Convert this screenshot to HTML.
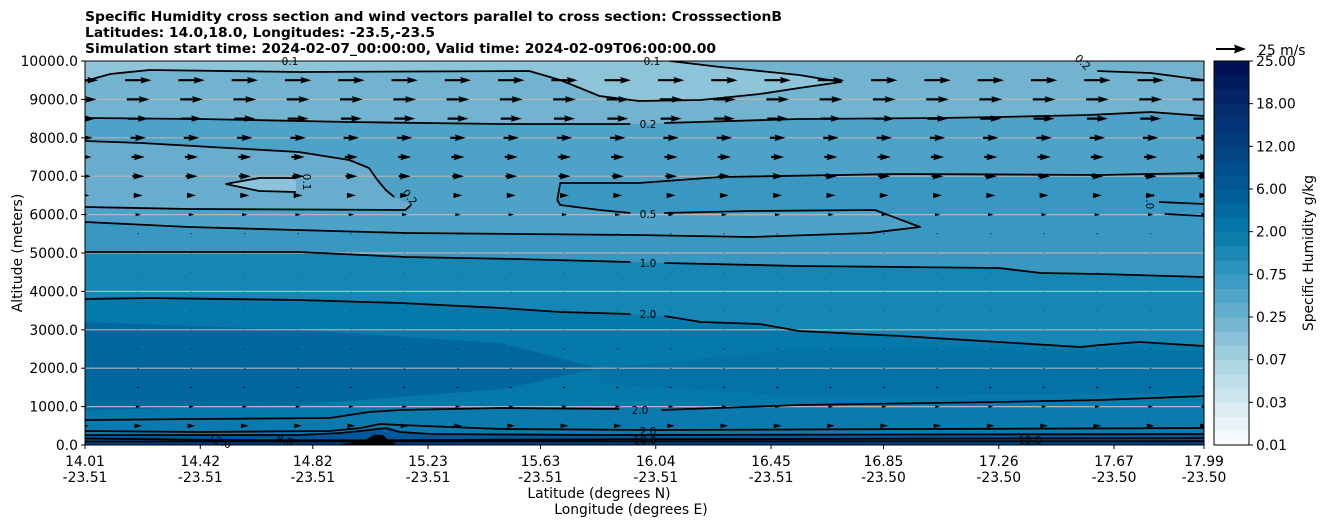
<!DOCTYPE html>
<html><head><meta charset="utf-8"><style>
html,body{margin:0;padding:0;background:#fff;}
svg{display:block;font-family:"DejaVu Sans","Liberation Sans",sans-serif;}
</style></head><body>
<svg id="chart" width="1326" height="526" viewBox="0 0 1326 526" xmlns="http://www.w3.org/2000/svg">
<defs><clipPath id="plotclip"><rect x="85" y="61" width="1119" height="384"/></clipPath></defs>
<g font-size="13" font-weight="bold" fill="#000">
<text x="85" y="21" textLength="697" lengthAdjust="spacingAndGlyphs">Specific Humidity cross section and wind vectors parallel to cross section: CrosssectionB</text>
<text x="85" y="37" textLength="350" lengthAdjust="spacingAndGlyphs">Latitudes: 14.0,18.0, Longitudes: -23.5,-23.5</text>
<text x="85" y="53" textLength="631" lengthAdjust="spacingAndGlyphs">Simulation start time: 2024-02-07_00:00:00, Valid time: 2024-02-09T06:00:00.00</text>
</g>
<g id="fills" clip-path="url(#plotclip)"></g>
<g id="grid"></g>
<g id="contours" clip-path="url(#plotclip)"></g>
<g id="arrows" clip-path="url(#plotclip)"></g>
<g id="clabels" font-size="10.5" fill="#000"></g>
<rect x="85" y="61" width="1119" height="384" fill="none" stroke="#000" stroke-width="1"/>
<g id="yaxis" font-size="13.9"></g>
<g id="xaxis" font-size="13.9"></g>
<text x="22" y="253" font-size="13.9" text-anchor="middle" transform="rotate(-90 22 253)">Altitude (meters)</text>
<text x="599" y="498" font-size="13.9" text-anchor="middle">Latitude (degrees N)</text>
<text x="631" y="514" font-size="13.9" text-anchor="middle">Longitude (degrees E)</text>
<g>
<path d="M1216 48 L1235 48 L1234 44.5 L1246 49 L1234 53.5 L1235 50 L1216 50 Z" fill="#000"/>
<text x="1258" y="55" font-size="13.9">25 m/s</text>
</g>
<g id="cbar" font-size="13.9"></g>
<text x="1313" y="253" font-size="13.9" text-anchor="middle" transform="rotate(-90 1313 253)">Specific Humidity g/kg</text>
</svg>
<script>
// ---- data ----
const xTickLats = ["14.01","14.42","14.82","15.23","15.63","16.04","16.45","16.85","17.26","17.67","17.99"];
const xTickLons = ["-23.51","-23.51","-23.51","-23.51","-23.51","-23.51","-23.51","-23.50","-23.50","-23.50","-23.50"];
const yTicks = [0,1000,2000,3000,4000,5000,6000,7000,8000,9000,10000];
const cbarLabels = ["0.01","0.03","0.07","0.25","0.75","2.00","6.00","12.00","18.00","25.00"];
const windAlts = [500,1000,1500,2000,2500,3000,3500,4000,4500,5000,5500,6000,6500,7000,7500,8000,8500,9000,9500];
const windSpeeds = [6.5,4,2.5,1.5,1.5,0.8,0.8,0.6,0.6,0.8,1.5,4.5,7.5,10,11,13,17.5,19,22];
const windCols = 22;
const c01top = [[14.01,9479],[14.10,9661],[14.24,9765],[14.77,9713],[15.59,9739],[15.70,9505],[15.84,9088],[15.98,8958],[16.20,8984],[16.41,9140],[16.55,9296],[16.70,9453],[16.55,9635],[16.27,9843],[16.09,10000]];
const c02right = [[17.61,9739],[17.80,9687],[17.99,9505]];
const c02upA = [[14.01,8515],[14.42,8489],[14.95,8411],[15.49,8359],[15.95,8359]];
const c02upB = [[16.07,8385],[16.55,8489],[17.05,8515],[17.26,8541],[17.58,8593],[17.80,8671],[17.99,8567]];
const c02loopA = [[14.01,7916],[14.21,7864],[14.77,7630],[14.95,7421],[15.02,7213],[15.05,6901],[15.08,6640],[15.11,6458]];
const c02loopB = [[15.17,6250],[15.15,6119],[14.38,6145],[14.01,6198]];
const c01small = [[14.76,6953],[14.63,6953],[14.51,6796],[14.63,6614],[14.76,6588]];
const c05A = [[14.01,5807],[14.38,5677],[15.15,5520],[15.97,5468],[16.38,5416],[16.80,5520],[16.98,5677],[16.82,6119],[16.38,6093],[16.07,6041]];
const c05B = [[15.95,6041],[15.84,6119],[15.70,6250],[15.69,6380],[15.70,6822],[15.98,6822],[16.27,6979],[16.91,7057],[17.62,7031],[17.99,7083]];
const c05right = [[17.83,6328],[17.99,6276]];
const c10right = [[17.85,6015],[17.99,5963]];
const c10A = [[14.01,5026],[14.77,5026],[15.15,4895],[15.54,4843],[15.95,4765]];
const c10B = [[16.07,4739],[16.55,4661],[16.91,4635],[17.26,4609],[17.41,4479],[17.62,4453],[17.99,4375]];
const c20upA = [[14.01,3802],[14.24,3828],[14.77,3776],[15.13,3698],[15.49,3568],[15.70,3463],[15.95,3411]];
const c20upB = [[16.07,3359],[16.20,3203],[16.41,3151],[16.55,2968],[16.91,2838],[17.26,2682],[17.55,2552],[17.62,2604],[17.76,2682],[17.99,2578]];
const c20lowA = [[14.01,651],[14.42,677],[14.88,703],[15.02,859],[15.13,911],[15.49,963],[15.91,937]];
const c20lowB = [[16.06,911],[16.55,1042],[17.26,1120],[17.62,1172],[17.99,1276]];
const g1 = [[14.01,365],[14.42,339],[14.88,365],[14.99,443],[15.06,547],[15.13,521],[15.31,469],[15.49,417],[16.02,391],[17.99,443]];
const g2 = [[14.01,260],[14.77,260],[14.92,313],[15.02,391],[15.08,443],[15.13,339],[15.24,286],[15.84,260],[17.99,286]];
const g3 = [[14.01,170],[14.50,130],[15.00,120],[15.50,140],[17.99,180]];
const g4 = [[14.01,90],[17.99,100]];
const mound = [[14.90,0],[15.00,100],[15.04,270],[15.07,260],[15.09,120],[15.12,0]];
const wetCore = [[14.01,3200],[14.77,3000],[15.49,2650],[15.84,2000],[15.49,1450],[14.77,1050],[14.01,900]];
const wetRight = [[15.84,2000],[16.5,2450],[17.99,2450],[17.99,1350],[16.5,1300],[15.84,1600]];

// ---- scales ----
const X0=85,X1=1204,Y0=445,Y1=61;
function sx(lat){return X0+(lat-14.01)/3.98*(X1-X0);}
function sy(alt){return Y0-alt/10000*(Y0-Y1);}
const NS="http://www.w3.org/2000/svg";
function pts(arr){return arr.map(p=>sx(p[0]).toFixed(1)+","+sy(p[1]).toFixed(1)).join(" ");}
function mk(tag,parent,attrs){const e=document.createElementNS(NS,tag);for(const k in attrs)e.setAttribute(k,attrs[k]);parent.appendChild(e);return e;}

const fills=document.getElementById('fills');
function poly(arr,color,name){
  const e=mk('polygon',fills,{points:pts(arr),fill:color});
  
  
}
const B=[[17.99,0],[14.01,0]];
const bg=mk('rect',fills,{x:X0,y:Y1,width:X1-X0,height:Y0-Y1,fill:'#4ea2c7'});


poly(c02upA.concat(c02upB,[[17.99,10000],[14.01,10000]]),'#72b3d0','band-0.1-0.2');
poly(c01top.concat([[14.01,10000]]),'#8ec4da','band-below-0.1');
poly(c02loopA.concat(c02loopB),'#68adcd','band-left-loop');
poly(c01small,'#8cc3da','band-small-loop');
poly(c05A.concat(c05B,[[17.99,0],[14.01,0]]),'#3898c1','band-0.5-1.0');
poly(c10A.concat(c10B,B),'#1686b5','band-1.0-2.0');
poly(c20upA.concat(c20upB,B),'#0679ab','band-above-2.0');
poly(wetRight,'#0372a7','band-wet-right');
poly(wetCore,'#00689f','band-wet-core');
poly(c20lowA.concat(c20lowB,B),'#0b7baf','band-low-level');
poly(g2.concat(B),'#00589a','band-surface');
poly(g4.concat(B),'#003f86','band-surface-dark');

// grid
const grid=document.getElementById('grid');
yTicks.forEach(t=>{ if(t===0||t===10000)return;
  const l=mk('line',grid,{x1:X0,x2:X1,y1:sy(t),y2:sy(t),stroke:'#b5b5b5','stroke-width':1.2});
  
  
});

// contours
const cg=document.getElementById('contours');
function line(arr,name){
  const e=mk('polyline',cg,{points:pts(arr),fill:'none',stroke:'#000','stroke-width':1.8,'stroke-linejoin':'round'});
  
  
}
line(c01top,'contour-0.1-top');line(c02right,'contour-0.2-right');
line(c02upA,'contour-0.2-upper-a');line(c02upB,'contour-0.2-upper-b');
line(c02loopA,'contour-0.2-loop-a');line(c02loopB,'contour-0.2-loop-b');
line(c01small.slice(0,3),'contour-0.1-small-a');line(c01small.slice(2),'contour-0.1-small-b');
line(c05A,'contour-0.5-a');line(c05B,'contour-0.5-b');line(c05right,'contour-0.5-right');line(c10right,'contour-1.0-right');
line(c10A,'contour-1.0-a');line(c10B,'contour-1.0-b');
line(c20upA,'contour-2.0-upper-a');line(c20upB,'contour-2.0-upper-b');
line(c20lowA,'contour-2.0-lower-a');line(c20lowB,'contour-2.0-lower-b');
line(g1,'contour-surface-1');line(g2,'contour-surface-2');line(g3,'contour-surface-3');line(g4,'contour-surface-4');
const md=mk('polygon',cg,{points:pts(mound),fill:'#000'});



// arrows
const ag=document.getElementById('arrows');
const pxPerMs=30/25;
windAlts.forEach((alt,ri)=>{
  const L=windSpeeds[ri]*pxPerMs; const y=sy(alt);
  for(let k=0;k<windCols;k++){
    const cx=X0+k*(X1-X0)/(windCols-1);
    let d;
    const w=2.2, hl=5*w, hw=3*w/2, ha=4.5*w;
    if(L>=hl){
      const x0=cx-L/2,x1=cx+L/2;
      d=`M${x0},${y-w/2} L${x1-ha},${y-w/2} L${x1-hl},${y-hw} L${x1},${y} L${x1-hl},${y+hw} L${x1-ha},${y+w/2} L${x0},${y+w/2} Z`;
    } else {
      const s=Math.max(L,1.2)/hl;
      const x1=cx+L/2;
      d=`M${x1-hl*s},${y-hw*s} L${x1},${y} L${x1-hl*s},${y+hw*s} Z`;
    }
    const p=mk('path',ag,{d:d,fill:'#000'});
    
    
  }
});

// contour labels
const lg=document.getElementById('clabels');
const labs=[["0.1",290,65,0],["0.1",652,65,0],["0.2",1083,66,45],["0.2",648,128,0],["0.1",307,186,90],["0.2",410,201,50],["0.5",648,218,0],["1.0",648,267,0],["1.0",1150,205,90],["2.0",648,318,0],["2.0",640,414,0],["2.0",648,435,0],["12.0",220,445,20],["8.0",285,444,15],["18.0",645,444,0],["12.0",1030,444,0]];
labs.forEach(a=>{
  const t=mk('text',lg,{x:a[1],y:a[2],'text-anchor':'middle',transform:`rotate(${a[3]} ${a[1]} ${a[2]-4})`});
  t.textContent=a[0];
  
  
});

// axes
const ya=document.getElementById('yaxis');
yTicks.forEach(t=>{
  const y=sy(t);
  const tk=mk('line',ya,{x1:X0-4,x2:X0,y1:y,y2:y,stroke:'#000'});
  
  
  const tx=mk('text',ya,{x:X0-7,y:y+5,'text-anchor':'end'});
  tx.textContent=t.toFixed(1);
  
  
});
const xa=document.getElementById('xaxis');
xTickLats.forEach((lab,i)=>{
  const x=sx(parseFloat(lab));
  const tk=mk('line',xa,{x1:x,x2:x,y1:Y0,y2:Y0+4,stroke:'#000'});
  
  
  const tx=mk('text',xa,{x:x,y:466,'text-anchor':'middle'});
  tx.textContent=lab;
  
  
  const t2=mk('text',xa,{x:x,y:482,'text-anchor':'middle'});
  t2.textContent=xTickLons[i];
  
  
});

// colorbar
const cb=document.getElementById('cbar');
const anchors=['#ffffff','#d4e9f1','#a9d3e3','#6cb1cf','#3597c0','#0679ab','#005b97','#033f80','#042a6c','#000c4e'];
function hex(h){return [1,3,5].map(i=>parseInt(h.substr(i,2),16));}
const nb=27, CX=1214, CW=35;
for(let i=0;i<nb;i++){
  const f=(i+0.5)/nb*(anchors.length-1); const a=Math.floor(f), r=f-a;
  const c1=hex(anchors[a]), c2=hex(anchors[Math.min(a+1,anchors.length-1)]);
  const c=c1.map((v,j)=>Math.round(v+(c2[j]-v)*r));
  const h=(Y0-Y1)/nb;
  const rr=mk('rect',cb,{x:CX,y:Y0-(i+1)*h,width:CW,height:h+0.5,fill:`rgb(${c})`});
  
  
}
const fr=mk('rect',cb,{x:CX,y:Y1,width:CW,height:Y0-Y1,fill:'none',stroke:'#000'});


cbarLabels.forEach((lab,i)=>{
  const y=Y0-i*(Y0-Y1)/(cbarLabels.length-1);
  const tk=mk('line',cb,{x1:CX+CW,x2:CX+CW+4,y1:y,y2:y,stroke:'#000'});
  
  
  const tx=mk('text',cb,{x:CX+CW+7,y:y+5});
  tx.textContent=lab;
  
  
});
</script>
</body></html>
